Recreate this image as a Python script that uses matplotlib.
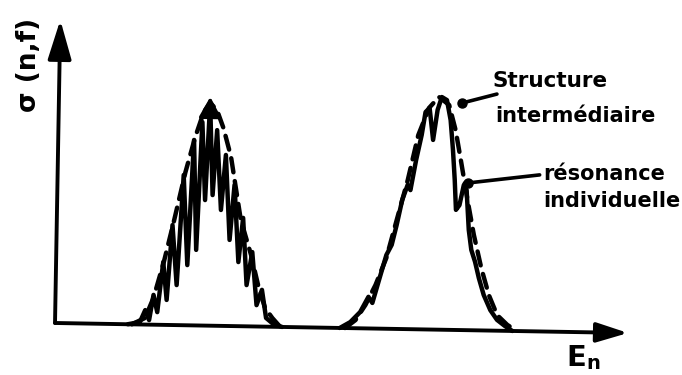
import matplotlib
matplotlib.use("Agg")
import matplotlib.pyplot as plt
from matplotlib.transforms import Affine2D
from matplotlib.patches import FancyArrowPatch

# ---------------- data (arbitrary units) ----------------
# Peak 1 : smooth envelope (dashed) = "structure intermédiaire"
env1_E = [13.4, 15.7, 17.1, 18.8, 20.4, 22.3, 23.9, 25.3, 26.4, 27.6, 28.8, 30.2,
          31.2, 32.1, 34.0, 35.4, 36.6, 37.9, 39.3]
env1_s = [0.0, 2.2, 8.9, 20.9, 34.2, 50.9, 62.6, 70.9, 74.0, 71.7, 65.7, 56.2,
          45.2, 35.3, 23.7, 13.1, 6.2, 2.9, 0.0]
# Peak 1 : individual resonances (solid)
res1_E = [12.7, 14.8, 15.7, 16.4, 17.1, 17.8, 18.7, 19.4, 20.2, 21.1, 22.0, 22.9,
          23.7, 24.4, 25.1, 25.8, 26.4, 27.1, 27.7, 28.6, 29.3, 30.2, 30.9, 31.8,
          32.5, 33.3, 34.2, 35.1, 36.0, 36.8, 37.9, 39.6]
res1_s = [0.0, 0.8, 4.8, 1.5, 9.9, 4.2, 20.9, 8.3, 33.2, 13.3, 49.9, 20.0,
          61.6, 25.1, 67.6, 41.7, 74.0, 43.4, 65.0, 38.5, 56.8, 28.6, 46.9, 21.3,
          36.0, 13.7, 24.7, 7.1, 12.2, 2.9, 1.2, 0.0]
# Peak 2 : envelope (dashed)
env2_E = [50.6, 52.4, 54.1, 55.8, 57.6, 59.3, 61.1, 62.8, 64.6, 66.3, 68.1, 69.3,
          70.3, 71.6, 72.8, 74.2, 75.6, 77.1, 78.9, 80.6]
env2_s = [0.0, 2.7, 7.8, 14.5, 23.5, 36.2, 49.5, 64.5, 73.6, 77.3, 74.7, 66.4,
          56.5, 43.2, 31.7, 20.7, 11.8, 5.2, 2.0, 0.0]
# Peak 2 : resonances (solid)
res2_E = [49.7, 51.5, 53.2, 54.6, 55.3, 56.4, 57.6, 58.5, 59.3, 60.2, 61.1, 61.6,
          62.5, 63.4, 64.0, 64.7, 65.4, 66.1, 66.8, 67.7, 68.4, 68.9, 69.3, 69.6,
          70.2, 70.9, 71.4, 71.9, 72.4, 73.1, 73.8, 74.7, 75.9, 77.1, 78.5, 79.8]
res2_s = [0.0, 2.0, 5.4, 10.5, 8.5, 16.2, 24.5, 27.9, 34.5, 42.9, 47.9, 46.2,
          56.2, 64.6, 72.2, 73.6, 63.0, 73.0, 77.3, 76.3, 69.7, 59.8, 49.8, 39.9,
          41.5, 48.2, 46.6, 33.3, 26.7, 22.7, 17.4, 11.8, 6.8, 3.6, 1.6, 0.0]

E_axis_max = 100.0
s_axis_max = 100.7
arrow1_E = 26.4          # arrow on top of first peak
arrow1_s = [58.0, 76.0]
lead_struct = [(70.3, 75.4), (76.4, 78.6)]
lead_reson = [(71.6, 48.9), (84.1, 52.0)]

# ---------------- figure ----------------
fig = plt.figure(figsize=(6.82, 3.75), dpi=100)
ax = fig.add_axes([0, 0, 1, 1])
ax.set_xlim(-9.6, 109.4)
ax.set_ylim(-17.28, 107.3)
ax.axis("off")

# hand-drawn sheet is slightly tilted: rotate everything about the origin
ox, oy = ax.transData.transform((0, 0))
tr = ax.transData + Affine2D().rotate_deg_around(ox, oy, -1.0)

lw = 3.2
kw_solid = dict(color="black", lw=lw, solid_capstyle="round",
                solid_joinstyle="round", transform=tr)
kw_dash = dict(color="black", lw=lw, linestyle=(0, (3.2, 2.0)),
               dash_capstyle="round", transform=tr)

ax.plot(env1_E, env1_s, **kw_dash)
ax.plot(res1_E, res1_s, **kw_solid)
ax.plot(env2_E, env2_s, **kw_dash)
ax.plot(res2_E, res2_s, **kw_solid)

# axes arrows
for a, b, hl, hw in [((0, 0), (E_axis_max, 0), 1.6, 0.5),
                     ((0, 0), (0, s_axis_max), 2.0, 0.6)]:
    ax.add_patch(FancyArrowPatch(a, b, transform=tr,
                                 arrowstyle=f"-|>,head_length={hl},head_width={hw}",
                                 mutation_scale=12, lw=2.8, color="black",
                                 shrinkA=0, shrinkB=0, capstyle="round"))

# small arrow on top of peak 1
ax.add_patch(FancyArrowPatch((arrow1_E, arrow1_s[0]), (arrow1_E, arrow1_s[1]),
                             transform=tr,
                             arrowstyle="-|>,head_length=1.0,head_width=0.55",
                             mutation_scale=12, lw=2.6, color="black",
                             shrinkA=0, shrinkB=0))

# leader lines
for (p0, p1) in [lead_struct, lead_reson]:
    ax.plot([p0[0], p1[0]], [p0[1], p1[1]], color="black", lw=2.6,
            solid_capstyle="round", transform=tr)
    ax.plot([p0[0]], [p0[1]], "o", color="black", ms=6.5, transform=tr)

# ---------------- texts ----------------
W, H = 682.0, 375.0
tk = dict(fontweight="bold", color="black", family="DejaVu Sans",
          transform=fig.transFigure, va="baseline", ha="left")
fig.text(493 / W, 1 - 87 / H, "Structure", fontsize=15.5, **tk)
fig.text(495 / W, 1 - 122 / H, "intermédiaire", fontsize=15, **tk)
fig.text(543 / W, 1 - 180 / H, "résonance", fontsize=15, **tk)
fig.text(543 / W, 1 - 207 / H, "individuelle", fontsize=15, **tk)

fig.text(29 / W, 1 - 65 / H, "σ (n,f)", fontsize=19, rotation=90,
         fontweight="bold", family="DejaVu Sans", ha="center", va="center")

fig.text(566 / W, 1 - 366 / H, "E", fontsize=21, **tk)
fig.text(586 / W, 2 / H, "n", fontsize=14, fontweight="bold", color="black",
         family="DejaVu Sans", ha="left", va="bottom")

fig.savefig("out.png", dpi=100, facecolor="white")
